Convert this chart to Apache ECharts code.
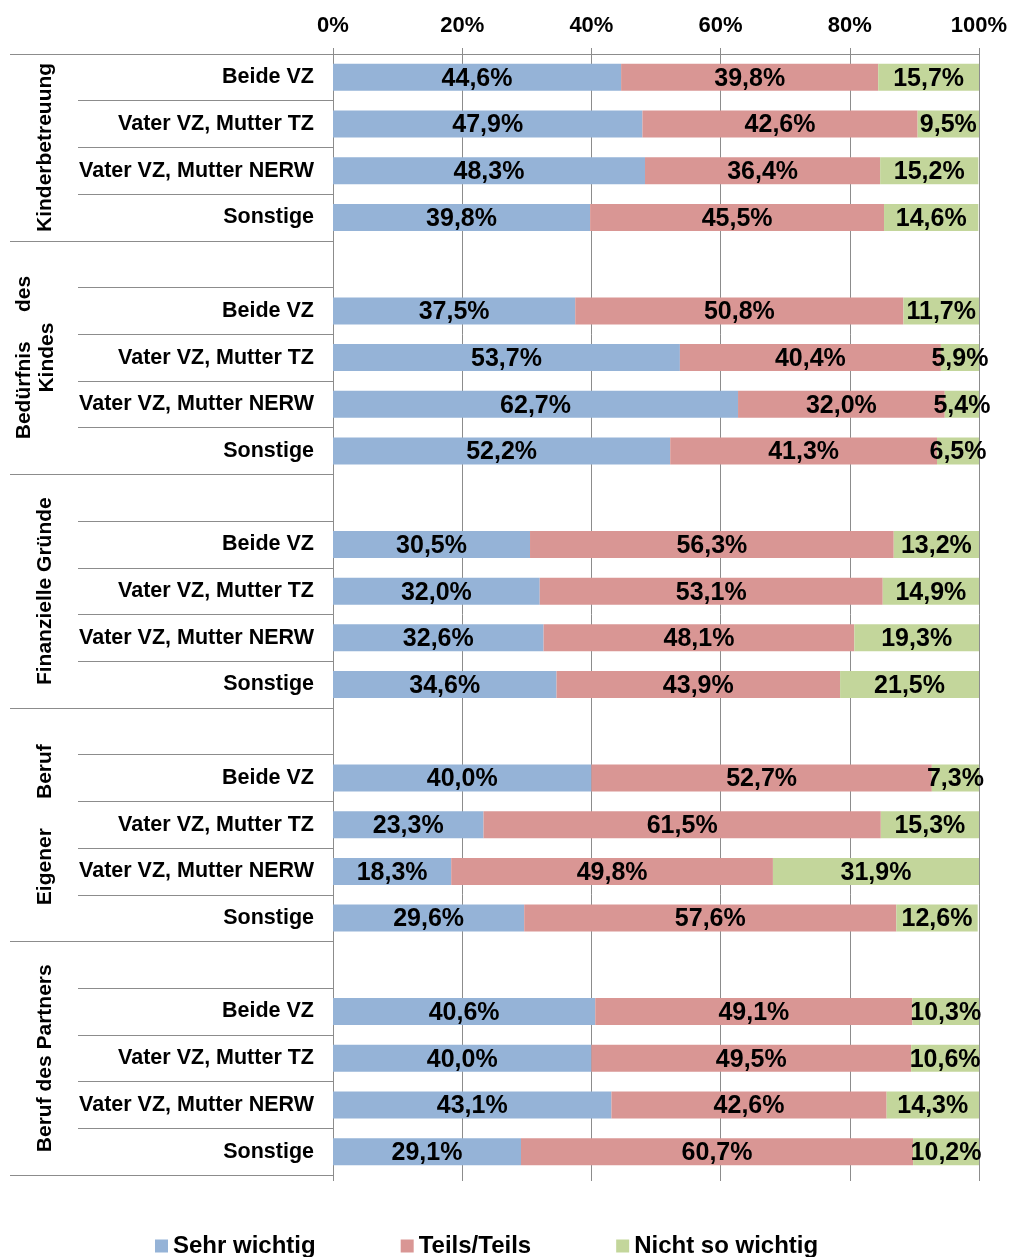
<!DOCTYPE html>
<html>
<head>
<meta charset="utf-8">
<script src="https://cdn.jsdelivr.net/npm/echarts@6/dist/echarts.min.js"></script>
<style>
html, body { margin: 0; padding: 0; background: #fff; }
#chart { width: 1011px; height: 1257px; }
</style>
</head>
<body>
<div id="chart"></div>
<script>
var groups = ['Kinderbetreuung', 'Bedürfnis des Kindes', 'Finanzielle Gründe', 'Eigener Beruf', 'Beruf des Partners'];
// Excel hat die Gruppentitel im Blocksatz umbrochen
var groupTitles = ['Kinderbetreuung', 'Bedürfnis     des\nKindes', 'Finanzielle Gründe', 'Eigener     Beruf', 'Beruf des Partners'];
var subGroups = ['Beide VZ', 'Vater VZ, Mutter TZ', 'Vater VZ, Mutter NERW', 'Sonstige'];
var seriesNames = ['Sehr wichtig', 'Teils/Teils', 'Nicht so wichtig'];
var colors = ['#95B3D7', '#D99694', '#C3D69B'];

// je Gruppe 4 Werte (Beide VZ, TZ, NERW, Sonstige)
var sehrWichtig = [44.6, 47.9, 48.3, 39.8, 37.5, 53.7, 62.7, 52.2, 30.5, 32.0, 32.6, 34.6, 40.0, 23.3, 18.3, 29.6, 40.6, 40.0, 43.1, 29.1];
var teilsTeils = [39.8, 42.6, 36.4, 45.5, 50.8, 40.4, 32.0, 41.3, 56.3, 53.1, 48.1, 43.9, 52.7, 61.5, 49.8, 57.6, 49.1, 49.5, 42.6, 60.7];
var nichtSoWichtig = [15.7, 9.5, 15.2, 14.6, 11.7, 5.9, 5.4, 6.5, 13.2, 14.9, 19.3, 21.5, 7.3, 15.3, 31.9, 12.6, 10.3, 10.6, 14.3, 10.2];

var font = '"Liberation Sans", Arial, sans-serif';
var lineColor = '#8c8c8c';

// Zeilen aufbauen: vor jeder Gruppe (außer der ersten) eine Leerzeile
var rowKeys = [], rowLabels = [], groupStart = [], groupRange = [];
var values = [[], [], []];
var src = [sehrWichtig, teilsTeils, nichtSoWichtig];
groups.forEach(function (g, gi) {
    var first = rowKeys.length;
    if (gi > 0) {
        rowKeys.push('leer' + gi);
        rowLabels.push('');
        groupStart.push(true);
        values.forEach(function (v) { v.push('-'); });
    }
    subGroups.forEach(function (s, si) {
        rowKeys.push(gi + '_' + si);
        rowLabels.push(s);
        groupStart.push(gi === 0 && si === 0);
        for (var k = 0; k < 3; k++) values[k].push(src[k][gi * 4 + si]);
    });
    groupRange.push([first, rowKeys.length - 1]);
});

function fmt(p) {
    return p.value.toFixed(1).replace('.', ',') + '%';
}

var chart = echarts.init(document.getElementById('chart'));
chart.setOption({
    animation: false,
    grid: { left: 333, right: 32, top: 54, bottom: 82, containLabel: false, outerBoundsMode: 'none' },
    legend: {
        data: seriesNames,
        left: 155,
        top: 1234,
        padding: 0,
        itemGap: 85,
        itemWidth: 13,
        itemHeight: 13,
        icon: 'rect',
        textStyle: { fontSize: 24, fontWeight: 'bold', color: '#000', fontFamily: font }
    },
    xAxis: [{
        type: 'value',
        position: 'top',
        min: 0,
        max: 100,
        interval: 20,
        axisLine: { show: true, lineStyle: { color: lineColor } },
        axisTick: { show: true, length: 6, lineStyle: { color: lineColor } },
        axisLabel: { formatter: '{value}%', fontSize: 22, fontWeight: 'bold', color: '#000', fontFamily: font, margin: 17 },
        splitLine: { show: true, lineStyle: { color: lineColor } }
    }, {
        type: 'value',
        position: 'bottom',
        min: 0,
        max: 100,
        interval: 20,
        axisLine: { show: false },
        axisTick: { show: true, length: 6, lineStyle: { color: lineColor } },
        axisLabel: { show: false },
        splitLine: { show: false }
    }],
    yAxis: [{
        type: 'category',
        data: rowKeys,
        inverse: true,
        position: 'left',
        axisLine: { show: true, lineStyle: { color: lineColor } },
        axisTick: {
            show: true,
            length: 255,
            interval: function (i) { return !groupStart[i]; },
            lineStyle: { color: lineColor }
        },
        axisLabel: {
            interval: 0,
            margin: 19,
            formatter: function (v, i) { return rowLabels[i]; },
            fontSize: 21.5, fontWeight: 'bold', color: '#000', fontFamily: font
        }
    }, {
        type: 'category',
        data: rowKeys,
        inverse: true,
        position: 'left',
        axisLine: { show: false },
        axisTick: {
            show: true,
            length: 323,
            interval: function (i) { return groupStart[i]; },
            lineStyle: { color: lineColor }
        },
        axisLabel: { show: false }
    }],
    series: seriesNames.map(function (name, k) {
        return {
            name: name,
            type: 'bar',
            stack: 'gesamt',
            barWidth: 27,
            data: values[k],
            itemStyle: { color: colors[k] },
            label: {
                show: true,
                position: 'inside',
                offset: [0, 1.5],
                formatter: fmt,
                fontSize: 25,
                fontWeight: 'bold',
                color: '#000',
                textBorderWidth: 0,
                fontFamily: font
            }
        };
    })
});

// Gruppentitel senkrecht neben die Zeilen setzen
var titles = groupRange.map(function (r, gi) {
    var y0 = chart.convertToPixel({ yAxisIndex: 0 }, r[0]);
    var y1 = chart.convertToPixel({ yAxisIndex: 0 }, r[1]);
    var twoLines = groupTitles[gi].indexOf('\n') >= 0;
    return {
        type: 'text',
        x: twoLines ? 36 : 45,
        y: (y0 + y1) / 2,
        rotation: Math.PI / 2,
        style: {
            text: groupTitles[gi],
            fontSize: 21,
            fontWeight: 'bold',
            fontFamily: font,
            lineHeight: 23,
            fill: '#000',
            align: 'center',
            verticalAlign: 'middle'
        }
    };
});
chart.setOption({ graphic: titles });
</script>
</body>
</html>
